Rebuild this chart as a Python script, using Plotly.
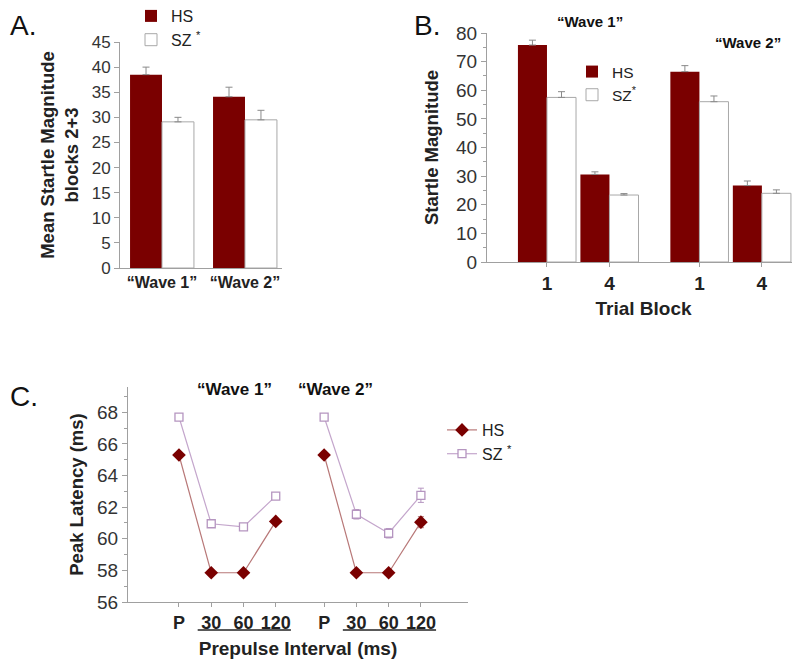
import plotly.graph_objects as go

# ---------------- data ----------------
# Panel A
a_categories = ["“Wave 1”", "“Wave 2”"]
a_hs = [38.5, 34.1]
a_hs_err = [1.5, 1.9]
a_sz = [29.1, 29.5]
a_sz_err = [0.9, 1.9]

# Panel B
b_ticklabels = ["1", "4", "1", "4"]
b_hs = [75.8, 30.6, 66.5, 26.7]
b_hs_err = [1.7, 0.9, 2.1, 1.6]
b_sz = [57.5, 23.4, 56.0, 24.0]
b_sz_err = [2.0, 0.5, 2.0, 1.2]

# Panel C
c_ticklabels = ["P", "30", "60", "120"]
c_hs_w1 = [65.3, 57.85, 57.85, 61.1]
c_sz_w1 = [67.7, 60.95, 60.75, 62.7]
c_hs_w2 = [65.3, 57.85, 57.85, 61.05]
c_sz_w2 = [67.7, 61.55, 60.35, 62.75]
c_hs_w1_err = [0.1, 0.1, 0.1, 0.15]
c_sz_w1_err = [0.1, 0.15, 0.15, 0.15]
c_hs_w2_err = [0.1, 0.1, 0.1, 0.35]
c_sz_w2_err = [0.15, 0.3, 0.3, 0.45]

# ---------------- style ----------------
FONT = "Liberation Sans, Arial, sans-serif"
HS_COLOR = "#7a0000"
SZ_EDGE = "#a8a8a8"
ERR = "#8a8a8a"
AXIS = "#a0a0a0"
TXT = "#222222"
HS_LINE = "#b87878"
SZ_LINE = "#c4a6cc"
SZ_MARK = "#b595c0"

# page has an 8px body margin; figure sized to fit the window exactly
OFF = 8
W, H = 800 - OFF, 660 - OFF
def px(x):
    return (x - OFF) / W
def py(y):
    return 1 - (y - OFF) / H

fig = go.Figure()

# positions (layout)
a_pos = [0, 1]
b_pos = [0, 1, 2.44, 3.44]
c_pos_w1 = [0, 1, 2, 3]
c_pos_w2 = [4.5, 5.5, 6.5, 7.5]

aw = 0.385
fig.add_trace(go.Bar(x=a_pos, y=a_hs, name="HS", width=aw, offset=-aw,
                     marker=dict(color=HS_COLOR, line=dict(width=0)),
                     error_y=dict(type="data", array=a_hs_err, arrayminus=[0] * len(a_hs_err),
                                  symmetric=False, color=ERR, thickness=1, width=3.5),
                     xaxis="x", yaxis="y", legend="legend"))
fig.add_trace(go.Bar(x=a_pos, y=a_sz, name="SZ <sup>*</sup>", width=aw, offset=0,
                     marker=dict(color="white", line=dict(width=1, color=SZ_EDGE)),
                     error_y=dict(type="data", array=a_sz_err, arrayminus=[0] * len(a_sz_err),
                                  symmetric=False, color=ERR, thickness=1, width=3.5),
                     xaxis="x", yaxis="y", legend="legend"))

bw = 0.465
fig.add_trace(go.Bar(x=b_pos, y=b_hs, name="HS", width=bw, offset=-bw,
                     marker=dict(color=HS_COLOR, line=dict(width=0)),
                     error_y=dict(type="data", array=b_hs_err, arrayminus=[0] * len(b_hs_err),
                                  symmetric=False, color=ERR, thickness=1, width=3.5),
                     xaxis="x2", yaxis="y2", legend="legend2"))
fig.add_trace(go.Bar(x=b_pos, y=b_sz, name="SZ<sup>*</sup>", width=bw, offset=0,
                     marker=dict(color="white", line=dict(width=1, color=SZ_EDGE)),
                     error_y=dict(type="data", array=b_sz_err, arrayminus=[0] * len(b_sz_err),
                                  symmetric=False, color=ERR, thickness=1, width=3.5),
                     xaxis="x2", yaxis="y2", legend="legend2"))

for pos, hs, sz, hse, sze, show in [
    (c_pos_w1, c_hs_w1, c_sz_w1, c_hs_w1_err, c_sz_w1_err, True),
    (c_pos_w2, c_hs_w2, c_sz_w2, c_hs_w2_err, c_sz_w2_err, False),
]:
    fig.add_trace(go.Scatter(x=pos, y=hs, mode="lines+markers", name="HS", showlegend=show,
                             line=dict(color=HS_LINE, width=1.2),
                             marker=dict(symbol="diamond", size=10.5, color=HS_COLOR),
                             error_y=dict(type="data", array=hse, color=HS_LINE, thickness=1, width=3),
                             xaxis="x3", yaxis="y3", legend="legend3"))
    fig.add_trace(go.Scatter(x=pos, y=sz, mode="lines+markers", name="SZ <sup>*</sup>", showlegend=show,
                             line=dict(color=SZ_LINE, width=1.2),
                             marker=dict(symbol="square", size=8, color="white",
                                         line=dict(width=1.3, color=SZ_MARK)),
                             error_y=dict(type="data", array=sze, color=SZ_MARK, thickness=1, width=3),
                             xaxis="x3", yaxis="y3", legend="legend3"))

tickfont = dict(family=FONT, size=17, color="#333333")
boldtick = dict(family=FONT, size=16, color=TXT, weight="bold")
titlefont = dict(family=FONT, size=18.5, color=TXT, weight="bold")

fig.update_layout(
    width=W, height=H,
    margin=dict(l=0, r=0, t=0, b=0, pad=0, autoexpand=False),
    paper_bgcolor="white", plot_bgcolor="white",
    barmode="overlay",
    font=dict(family=FONT, color=TXT),
    # Panel A
    xaxis=dict(domain=[px(120), px(282)], range=[-0.506, 1.446], tickvals=a_pos, ticktext=a_categories,
               showline=True, linecolor=AXIS, linewidth=1, ticks="", tickfont=boldtick,
               showgrid=False, zeroline=False, anchor="y", fixedrange=True),
    yaxis=dict(domain=[py(268), py(42)], range=[0, 45], dtick=5, showline=True, linecolor=AXIS,
               ticks="outside", ticklen=5, tickcolor=AXIS, tickfont=tickfont, showgrid=False,
               zeroline=False, anchor="x",
               title=dict(text="Mean Startle Magnitude<br>blocks 2+3", font=titlefont, standoff=8)),
    # Panel B
    xaxis2=dict(domain=[px(487), 1.0], range=[-0.96, 4.05], tickvals=b_pos, ticktext=b_ticklabels,
                showline=True, linecolor=AXIS, ticks="outside", ticklen=4, tickcolor=AXIS,
                tickfont=dict(family=FONT, size=19, color=TXT, weight="bold"), showgrid=False,
                zeroline=False, anchor="y2",
                title=dict(text="Trial Block", font=dict(family=FONT, size=19, color=TXT, weight="bold"),
                           standoff=8)),
    yaxis2=dict(domain=[py(262), py(33)], range=[0, 80], dtick=10, showline=True, linecolor=AXIS,
                ticks="outside", ticklen=5, tickcolor=AXIS,
                minor=dict(dtick=5, ticks="outside", ticklen=3, tickcolor=AXIS),
                tickfont=dict(family=FONT, size=19, color="#333333"), showgrid=False, zeroline=False,
                anchor="x2", title=dict(text="Startle Magnitude", font=titlefont, standoff=12)),
    # Panel C
    xaxis3=dict(domain=[px(128), px(468)], range=[-1.58, 8.96], tickvals=c_pos_w1 + c_pos_w2,
                ticktext=c_ticklabels + c_ticklabels, showline=True, linecolor=AXIS, ticks="outside",
                ticklen=4, tickcolor=AXIS, tickfont=dict(family=FONT, size=18, color=TXT, weight="bold"),
                showgrid=False, zeroline=False, anchor="y3",
                title=dict(text="Prepulse Interval (ms)",
                           font=dict(family=FONT, size=19, color=TXT, weight="bold"), standoff=10)),
    yaxis3=dict(domain=[py(602), py(387)], range=[56, 69.6], tickvals=[56, 58, 60, 62, 64, 66, 68],
                showline=True, linecolor=AXIS, ticks="outside", ticklen=5, tickcolor=AXIS,
                minor=dict(dtick=1, ticks="outside", ticklen=3, tickcolor=AXIS),
                tickfont=dict(family=FONT, size=19, color="#333333"), showgrid=False, zeroline=False,
                anchor="x3", title=dict(text="Peak Latency (ms)", font=titlefont, standoff=8)),
    legend=dict(x=px(131), y=py(-1), xanchor="left", yanchor="top", bgcolor="rgba(0,0,0,0)",
                font=dict(family=FONT, size=16, color=TXT), tracegroupgap=0),
    legend2=dict(x=px(572), y=py(55), xanchor="left", yanchor="top", bgcolor="rgba(0,0,0,0)",
                 font=dict(family=FONT, size=15.5, color=TXT), tracegroupgap=0),
    legend3=dict(x=px(442), y=py(413), xanchor="left", yanchor="top", bgcolor="rgba(0,0,0,0)",
                 font=dict(family=FONT, size=16, color=TXT), tracegroupgap=0),
)

ann = [
    dict(text="A.", x=px(8), y=py(8), xanchor="left", yanchor="top", size=28, bold=False),
    dict(text="B.", x=px(412), y=py(8), xanchor="left", yanchor="top", size=28, bold=False),
    dict(text="C.", x=px(8), y=py(414), xanchor="left", yanchor="bottom", size=28, bold=False),
    dict(text="“Wave 1”", x=px(590), y=py(22), xanchor="center", yanchor="middle", size=15, bold=True),
    dict(text="“Wave 2”", x=px(748), y=py(42), xanchor="center", yanchor="middle", size=15, bold=True),
    dict(text="“Wave 1”", x=px(234), y=py(389), xanchor="center", yanchor="middle", size=17, bold=True),
    dict(text="“Wave 2”", x=px(335), y=py(389), xanchor="center", yanchor="middle", size=17, bold=True),
]
for a in ann:
    fig.add_annotation(text=a["text"], x=a["x"], y=a["y"], xref="paper", yref="paper",
                       xanchor=a["xanchor"], yanchor=a["yanchor"], showarrow=False,
                       font=dict(family=FONT, size=a["size"], color="#111111",
                                 weight="bold" if a["bold"] else "normal"))

# underlines beneath the prepulse intervals
for x0, x1 in [(c_pos_w1[1] - 0.42, c_pos_w1[3] + 0.47), (c_pos_w2[1] - 0.42, c_pos_w2[3] + 0.47)]:
    fig.add_shape(type="line", xref="x3", yref="paper", x0=x0, x1=x1, y0=py(630), y1=py(630),
                  line=dict(color="#222222", width=1.5))

fig.write_html("out.html")
